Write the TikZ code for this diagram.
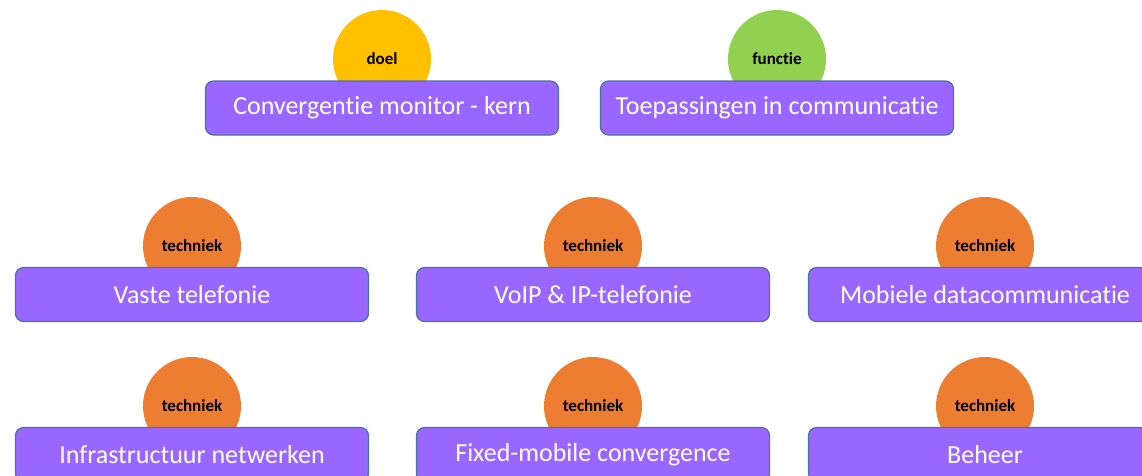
\documentclass[tikz,border=0pt]{standalone}
\usepackage{fontspec}
\setmainfont{Carlito}[Ligatures={NoCommon}]
\definecolor{boxfill}{HTML}{9966FF}
\definecolor{boxline}{HTML}{4A72A0}
\definecolor{doelc}{HTML}{FFC000}
\definecolor{functiec}{HTML}{92D050}
\definecolor{techc}{HTML}{ED7D31}
\tikzset{
  tag/.style={circle, minimum size=98pt, inner sep=0pt, font=\fontsize{17}{19}\selectfont\bfseries, text=black},
  topic/.style={draw=boxline, line width=1.2pt, fill=boxfill, rounded corners=8pt, minimum width=353pt, minimum height=54pt, inner sep=0pt, text=white, font=\fontsize{26}{30}\selectfont},
}
\begin{document}
\begin{tikzpicture}[x=1pt,y=-1pt]
\useasboundingbox (0,0) rectangle (1142,475);
\clip (0,0) rectangle (1142,475);
\fill[white] (0,0) rectangle (1142,475);
% row 1
\node[tag, fill=doelc] (c1) at (382,59) {doel};
\node[tag, fill=functiec] (c2) at (777,59) {functie};
\node[topic] (b1) at (382,108) {Convergentie monitor - kern};
\node[topic] (b2) at (777,108) {Toepassingen in communicatie};
% row 2
\node[tag, fill=techc] (c3) at (192,246) {techniek};
\node[tag, fill=techc] (c4) at (593,246) {techniek};
\node[tag, fill=techc] (c5) at (985,246) {techniek};
\node[topic] (b3) at (192,294.5) {Vaste telefonie};
\node[topic] (b4) at (593,294.5) {VoIP \& IP-telefonie};
\node[topic] (b5) at (985,294.5) {Mobiele datacommunicatie};
% row 3
\node[tag, fill=techc] (c6) at (192,406) {techniek};
\node[tag, fill=techc] (c7) at (593,406) {techniek};
\node[tag, fill=techc] (c8) at (985,406) {techniek};
\node[topic] (b6) at (192,454.5) {Infrastructuur netwerken};
\node[topic] (b7) at (593,454.5) {Fixed-mobile convergence};
\node[topic] (b8) at (985,454.5) {Beheer};
\end{tikzpicture}
\end{document}
